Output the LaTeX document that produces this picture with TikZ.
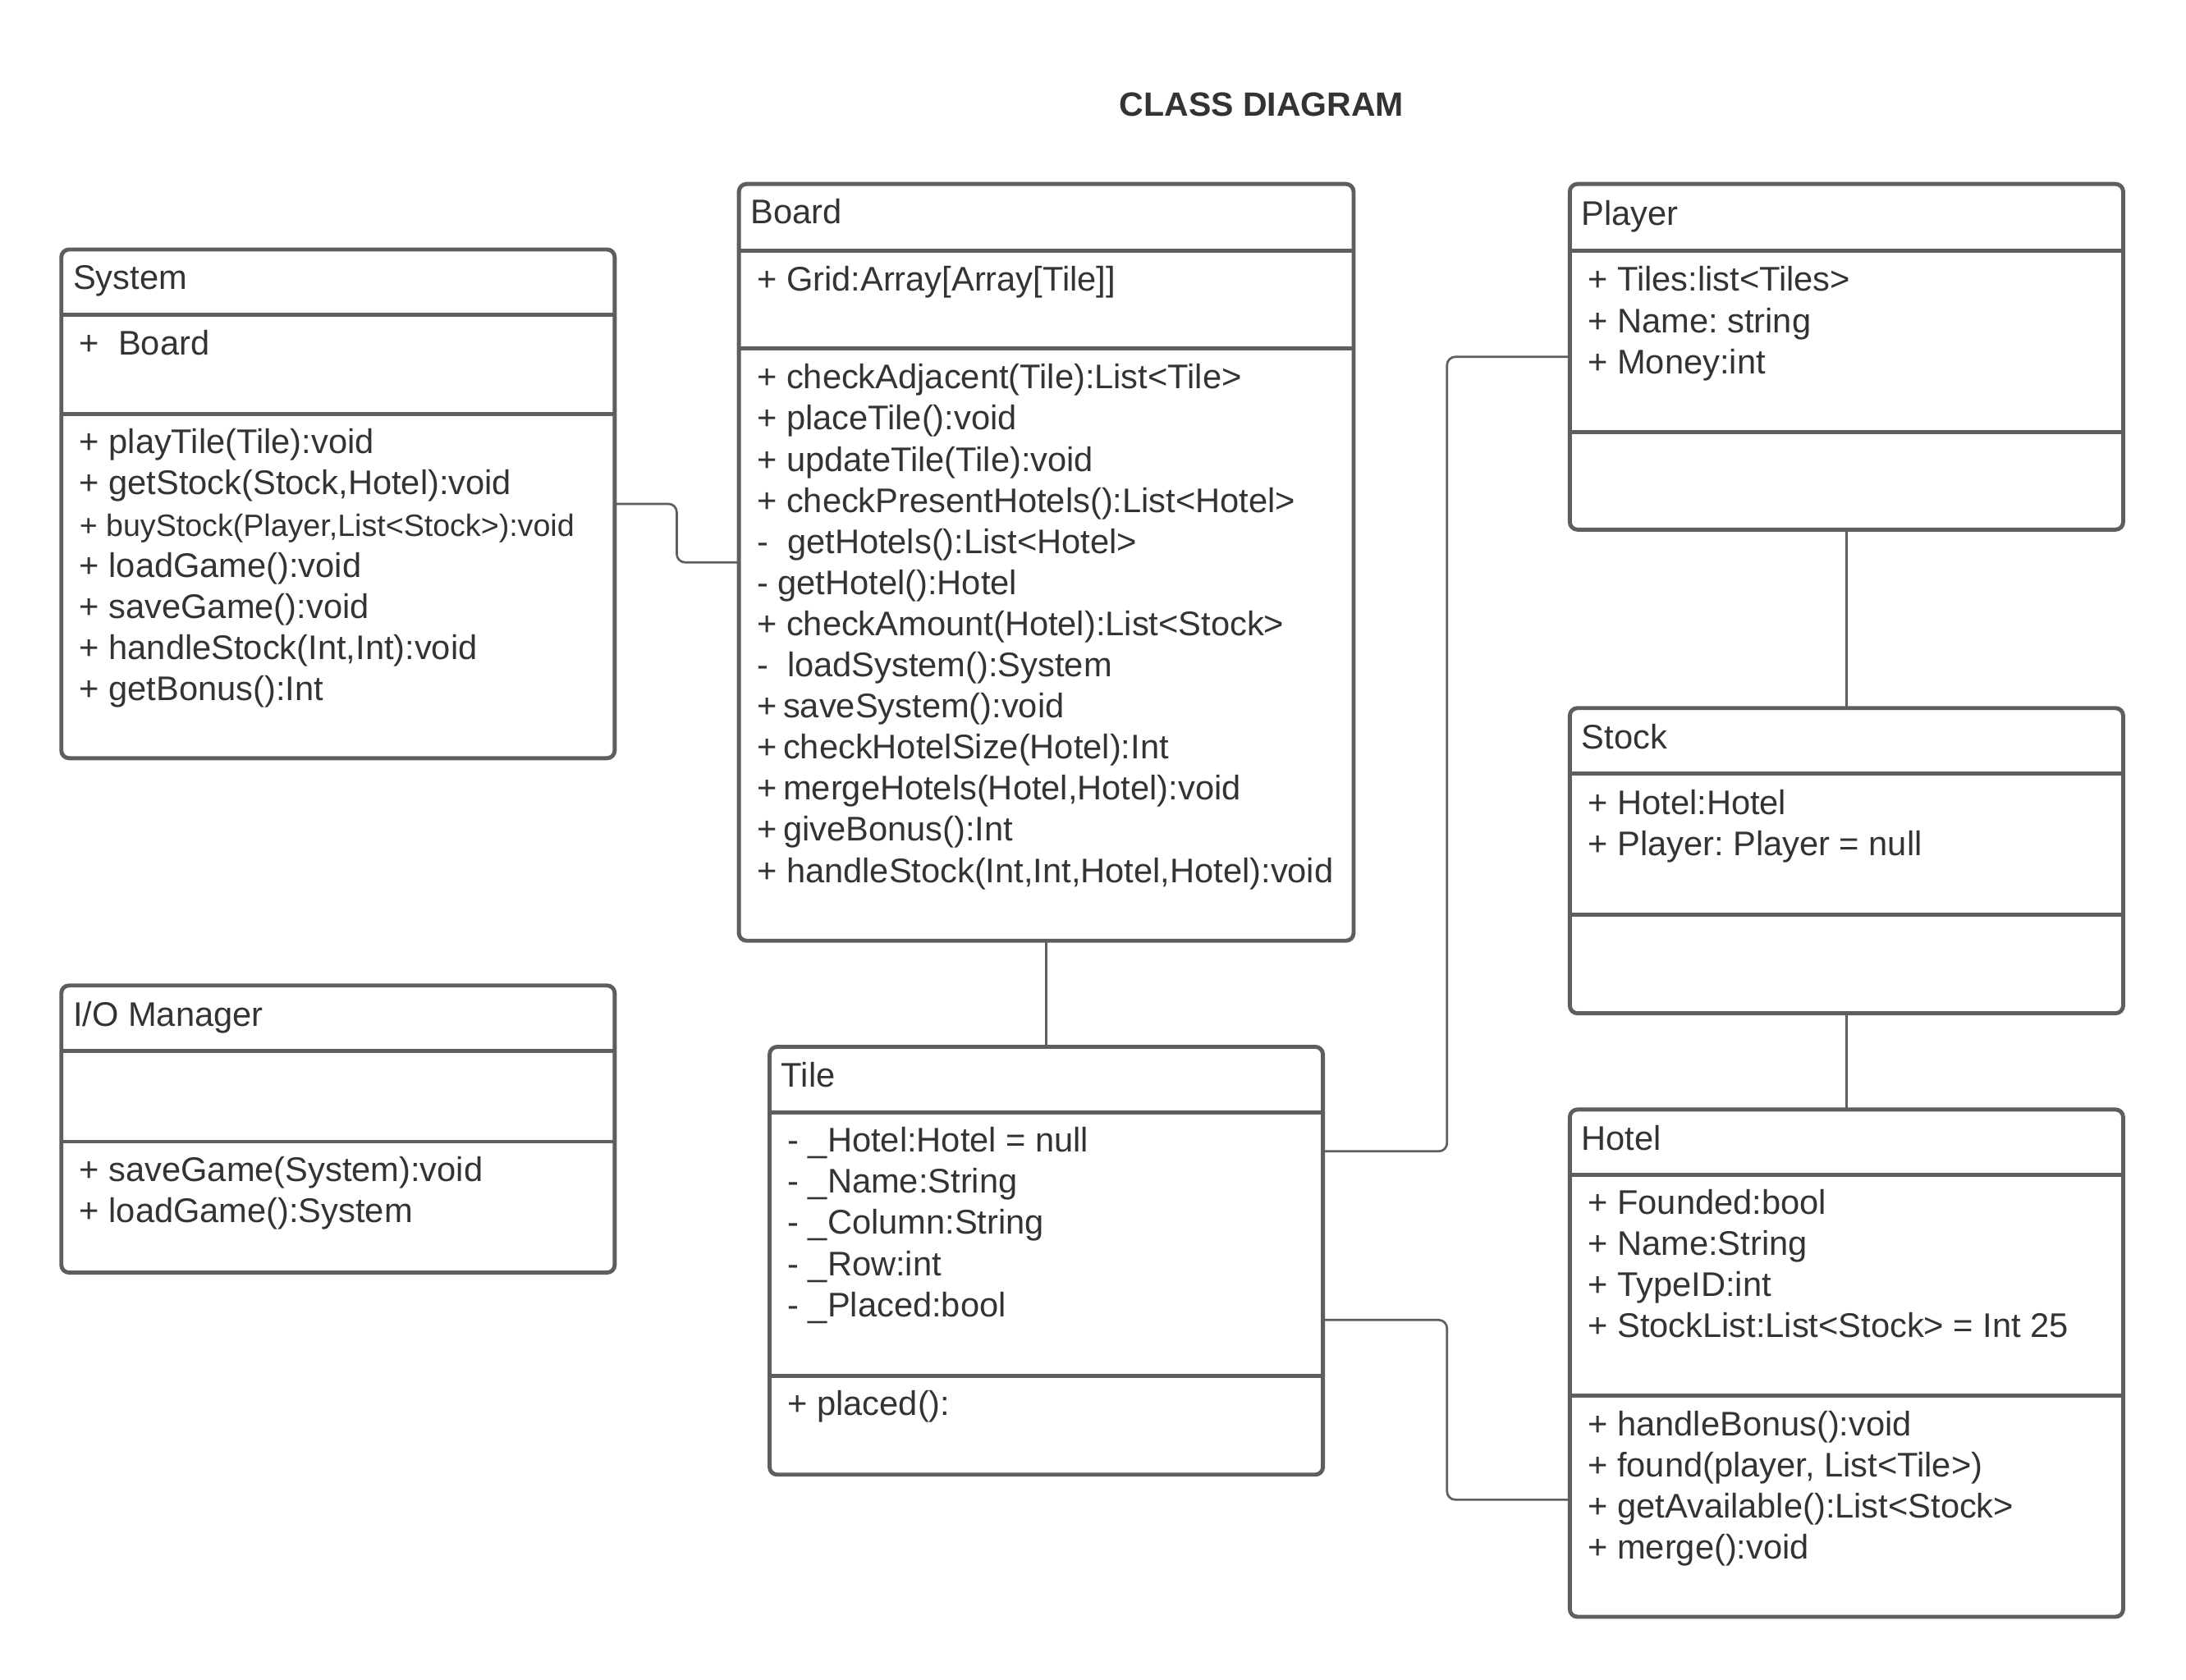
\documentclass[tikz,border=0pt]{standalone}
\usepackage{fontspec}
\setmainfont{Liberation Sans}
\frenchspacing
\definecolor{linec}{RGB}{94,94,94}
\definecolor{textc}{RGB}{51,51,51}
\tikzset{
  umlbox/.style={draw=linec, line width=1.65pt, rounded corners=0.11cm, fill=white,
    inner sep=0pt, outer sep=0pt, anchor=north west},
  sepline/.style={draw=linec, line width=1.65pt},
  conn/.style={draw=linec, line width=0.9pt, rounded corners=0.12cm},
  txt/.style={anchor=base west, inner sep=0pt, outer sep=0pt, text=textc,
    font=\frenchspacing\fontsize{13.95}{16}\selectfont},
  titletxt/.style={anchor=base, inner sep=0pt, text=textc,
    font=\bfseries\fontsize{13.74}{16}\selectfont}
}
\newcommand\umllines[4]{%
  \foreach \t [count=\i from 0] in {#4}{\node[txt] (#1\i) at (#2,{#3+1.5+29.5*\i}) {\t};}}
\begin{document}
\begin{tikzpicture}[x=0.02cm,y=-0.02cm]
\useasboundingbox (0,0) rectangle (1568,1205);
\fill[white] (0,0) rectangle (1568,1205);

\node[titletxt] (title) at (905,83.4) {CLASS DIAGRAM};

% ---------- boxes ----------
\node[umlbox, minimum width=7.94cm, minimum height=7.3cm]  (system) at (44,179) {};
\node[umlbox, minimum width=8.82cm, minimum height=10.86cm] (board)  at (530,132) {};
\node[umlbox, minimum width=7.94cm, minimum height=4.96cm] (player) at (1126,132) {};
\node[umlbox, minimum width=7.94cm, minimum height=4.38cm] (stock)  at (1126,508) {};
\node[umlbox, minimum width=7.94cm, minimum height=7.28cm] (hotel)  at (1126,796) {};
\node[umlbox, minimum width=7.94cm, minimum height=4.12cm] (io)     at (44,707) {};
\node[umlbox, minimum width=7.94cm, minimum height=6.14cm] (tile)   at (552,751) {};

% ---------- compartment separators ----------
\draw[sepline] (44,226) -- (441,226);   \draw[sepline] (44,297) -- (441,297);
\draw[sepline] (530,180) -- (971,180);  \draw[sepline] (530,250) -- (971,250);
\draw[sepline] (1126,180) -- (1523,180); \draw[sepline] (1126,310) -- (1523,310);
\draw[sepline] (1126,555) -- (1523,555); \draw[sepline] (1126,656) -- (1523,656);
\draw[sepline] (1126,843) -- (1523,843); \draw[sepline] (1126,1001) -- (1523,1001);
\draw[sepline] (44,754) -- (441,754);   \draw[sepline] (44,819) -- (441,819);
\draw[sepline] (552,798) -- (949,798);  \draw[sepline] (552,987) -- (949,987);

% ---------- connectors ----------
\draw[conn] (system.east) -- ++(44.5,0) |- (board.west);
\draw[conn] (board.south) -- (tile.north);
\draw[conn] ([yshift=-1.5cm]tile.north east) -- ++(89,0) |- (player.west);
\draw[conn] ([yshift=-3.92cm]tile.north east) -- ++(89,0) |- ([yshift=-5.6cm]hotel.north west);
\draw[conn] (player.south) -- (stock.north);
\draw[conn] (stock.south) -- (hotel.north);

% ---------- System ----------
\umllines{systemH}{52.5}{206}{{System}}
\umllines{systemA}{57}{253}{{+\ \ Board}}
\umllines{systemM}{57}{324}{{+ playTile(Tile):void},{+ getStock(Stock,Hotel):void},
  {\fontsize{12.6}{14}\selectfont + buyStock(Player,List<Stock>):void},{+ loadGame():void},
  {+ saveGame():void},{+ handleStock(Int,Int):void},{+ getBonus():Int}}

% ---------- Board ----------
\umllines{boardH}{538.5}{159}{{Board}}
\umllines{boardA}{543}{207}{{+ Grid:Array[Array[Tile]]}}
\umllines{boardM}{543}{277.5}{{+ checkAdjacent(Tile):List<Tile>},{+ placeTile():void},
  {+ updateTile(Tile):void},{+ checkPresentHotels():List<Hotel>},{-\ \ getHotels():List<Hotel>},
  {- getHotel():Hotel},{+ checkAmount(Hotel):List<Stock>},{-\ \ loadSystem():System},
  {+\hspace{-1.3pt} saveSystem():void},{+\hspace{-1.3pt} checkHotelSize(Hotel):Int},
  {+\hspace{-1.3pt} mergeHotels(Hotel,Hotel):void},{+\hspace{-1.3pt} giveBonus():Int},
  {+ handleStock(Int,Int,Hotel,Hotel):void}}

% ---------- Player ----------
\umllines{playerH}{1134.5}{160}{{Player}}
\umllines{playerA}{1139}{207.5}{{+ Tiles:list<Tiles>},{+ Name: string},{+ Money:int}}

% ---------- Stock ----------
\umllines{stockH}{1134.5}{535.5}{{Stock}}
\umllines{stockA}{1139}{583}{{+ Hotel:Hotel},{+ Player: Player = null}}

% ---------- Hotel ----------
\umllines{hotelH}{1134.5}{823.5}{{Hotel}}
\umllines{hotelA}{1139}{869.5}{{+ Founded:bool},{+ Name:String},{+ TypeID:int},
  {+ StockList:List<Stock> = Int 25}}
\umllines{hotelM}{1139}{1028.5}{{+ handleBonus():void},{+ found(player, List<Tile>)},
  {+ getAvailable():List<Stock>},{+ merge():void}}

% ---------- I/O Manager ----------
\umllines{ioH}{52.5}{734.5}{{I/O Manager}}
\umllines{ioM}{57}{846}{{+ saveGame(System):void},{+ loadGame():System}}

% ---------- Tile ----------
\umllines{tileH}{560.5}{778.5}{{Tile}}
\umllines{tileA}{565}{825}{{- \_Hotel:Hotel = null},{- \_Name:String},{- \_Column:String},
  {- \_Row:int},{- \_Placed:bool}}
\umllines{tileM}{565}{1014}{{+ placed():}}
\end{tikzpicture}
\end{document}
